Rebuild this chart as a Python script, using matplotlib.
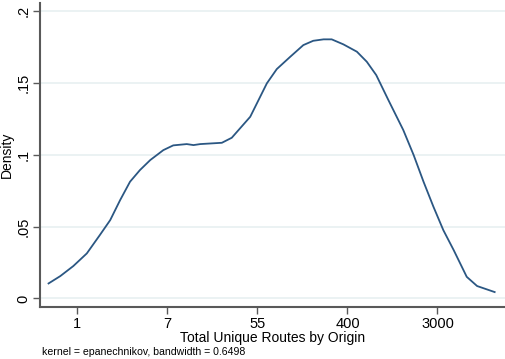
import matplotlib
matplotlib.use("Agg")
import matplotlib.pyplot as plt
import numpy as np

# kernel density of log(total unique routes), read as polyline points
log_routes = [-0.64, -0.38, -0.09, 0.21, 0.50, 0.73, 0.95, 1.17, 1.39, 1.62, 1.91, 2.13,
              2.43, 2.58, 2.73, 3.21, 3.43, 3.84, 4.21, 4.43, 4.73, 5.02, 5.24, 5.47,
              5.65, 5.91, 6.21, 6.43, 6.64, 6.91, 7.24, 7.47, 7.69, 7.91, 8.13, 8.36,
              8.65, 8.88, 9.27]
density = [0.0104, 0.0155, 0.0225, 0.0313, 0.0441, 0.0545, 0.0684, 0.0812, 0.0893,
           0.0963, 0.1032, 0.1065, 0.1074, 0.1067, 0.1074, 0.1083, 0.1118, 0.1264,
           0.1497, 0.1596, 0.1682, 0.1763, 0.1793, 0.1803, 0.1803, 0.1768, 0.1717,
           0.1647, 0.1554, 0.1380, 0.1172, 0.0998, 0.0812, 0.0638, 0.0475, 0.0336,
           0.0150, 0.0086, 0.0044]

xtick_pos = [0, 2, 4, 6, 8]
xtick_labels = ["1", "7", "55", "400", "3000"]
ytick_pos = [0, 0.05, 0.1, 0.15, 0.2]
ytick_labels = ["0", ".05", ".1", ".15", ".2"]

plt.rcParams["font.family"] = ["Liberation Sans", "DejaVu Sans"]

fig = plt.figure(figsize=(5.05, 3.59), dpi=100)
ax = fig.add_axes([40 / 505, 52 / 359, 465 / 505, 304 / 359])

ax.plot(log_routes, density, color="#2b5783", lw=1.3, zorder=3)

ax.set_xlim(-0.83, 9.5)
ax.set_ylim(-0.006, 0.2056)

ax.set_yticks(ytick_pos)
ax.set_yticklabels(ytick_labels, rotation=90, va="center", fontsize=10.5)
ax.set_xticks(xtick_pos)
ax.set_xticklabels(xtick_labels, fontsize=10.5)
ax.grid(axis="y", color="#e8f0f1", lw=1.2, zorder=0)
ax.grid(axis="x", visible=False)

for s in ["top", "right"]:
    ax.spines[s].set_visible(False)
for s in ["left", "bottom"]:
    ax.spines[s].set_color("#595959")
    ax.spines[s].set_linewidth(1.5)
ax.tick_params(direction="out", length=5, width=1, color="#595959",
               labelcolor="black", pad=2)

ax.set_ylabel("Density", fontsize=10, labelpad=2)
ax.set_xlabel("Total Unique Routes by Origin", fontsize=10, labelpad=0)

fig.text(42 / 505, 1 - 352 / 359, "kernel = epanechnikov, bandwidth = 0.6498",
         fontsize=7.6, va="center", ha="left")

fig.savefig("out.png", dpi=100)
